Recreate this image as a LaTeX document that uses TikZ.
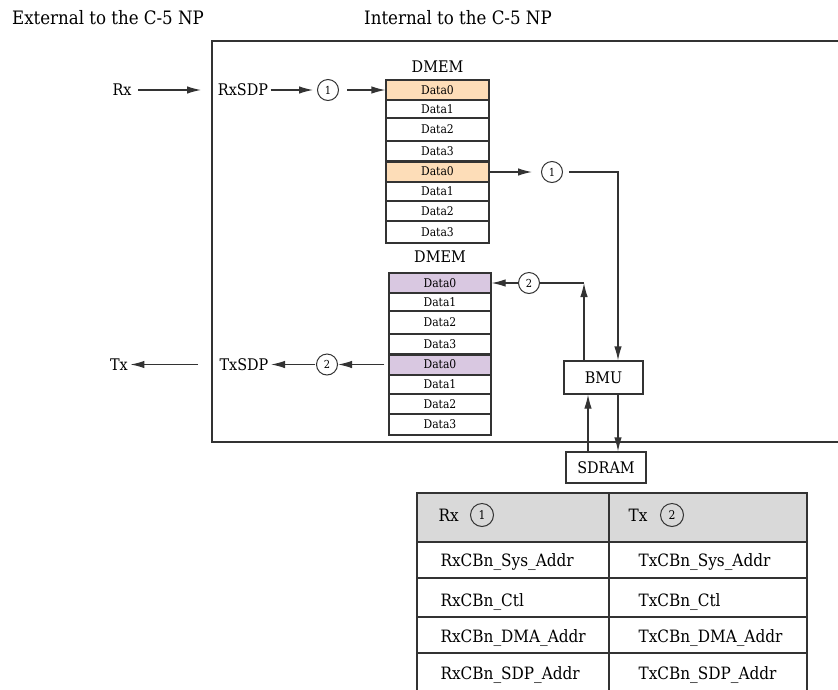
\documentclass[tikz,border=0pt]{standalone}
\usepackage{fontspec}
\setmainfont{DejaVu Serif Condensed}
\usetikzlibrary{arrows.meta}
\definecolor{peach}{HTML}{FDDDB8}
\definecolor{lilac}{HTML}{D9C8E1}
\definecolor{hdr}{HTML}{D9D9D9}
\definecolor{ln}{HTML}{333333}
\begin{document}
\begin{tikzpicture}[x=1pt,y=-1pt, line width=1.2pt,
  lbl/.style={draw=none, inner sep=2pt, font=\fontsize{16}{18}\selectfont, text=black},
  head/.style={draw=none, inner sep=2pt, font=\fontsize{18.5}{20}\selectfont, text=black},
  cell/.style={draw=ln, line width=1.2pt, inner sep=0pt, font=\fontsize{12}{13}\selectfont, text=black},
  numc/.style={circle, draw=ln, line width=1pt, minimum size=21pt, inner sep=0pt, font=\fontsize{11}{12}\selectfont, text=black},
  boxn/.style={draw=ln, line width=1.2pt, inner sep=0pt, font=\fontsize{16}{18}\selectfont, text=black},
  tcell/.style={draw=ln, line width=1.2pt, inner sep=0pt, text=black},
  tlbl/.style={draw=none, inner sep=2pt, anchor=west, font=\fontsize{17}{19}\selectfont, text=black},
  arr/.style={ln, -{Latex[length=14pt,width=7.5pt]}}
]
\useasboundingbox (0,0) rectangle (838,689);

% headings
\node[head] (ext) at (108,18) {External to the C-5 NP};
\node[head] (int) at (458,18) {Internal to the C-5 NP};

% chip boundary
\begin{scope}
\clip (0,0) rectangle (838,689);
\draw[ln] (850,41) -| (212,442) -- (850,442);
\end{scope}

% DMEM 1
\node[lbl] (dm1) at (437.5,67) {DMEM};
\node[cell, fill=peach, minimum width=103pt, minimum height=20pt] (a1) at (437.5,90) {Data0};
\node[cell, minimum width=103pt, minimum height=18pt] (a2) at (437.5,109) {Data1};
\node[cell, minimum width=103pt, minimum height=23pt] (a3) at (437.5,129.5) {Data2};
\node[cell, minimum width=103pt, minimum height=20pt] (a4) at (437.5,151) {Data3};
\node[cell, fill=peach, minimum width=103pt, minimum height=21pt] (a5) at (437.5,171.5) {Data0};
\node[cell, minimum width=103pt, minimum height=19pt] (a6) at (437.5,191.5) {Data1};
\node[cell, minimum width=103pt, minimum height=20pt] (a7) at (437.5,211) {Data2};
\node[cell, minimum width=103pt, minimum height=22pt] (a8) at (437.5,232) {Data3};
\draw[ln, line width=2.4pt] (a4.south west) -- (a4.south east);

% DMEM 2
\node[lbl] (dm2) at (440,257) {DMEM};
\node[cell, fill=lilac, minimum width=102pt, minimum height=20pt] (b1) at (440,283) {Data0};
\node[cell, minimum width=102pt, minimum height=18pt] (b2) at (440,302) {Data1};
\node[cell, minimum width=102pt, minimum height=23pt] (b3) at (440,322.5) {Data2};
\node[cell, minimum width=102pt, minimum height=20pt] (b4) at (440,344) {Data3};
\node[cell, fill=lilac, minimum width=102pt, minimum height=21pt] (b5) at (440,364.5) {Data0};
\node[cell, minimum width=102pt, minimum height=19pt] (b6) at (440,384.5) {Data1};
\node[cell, minimum width=102pt, minimum height=20pt] (b7) at (440,404) {Data2};
\node[cell, minimum width=102pt, minimum height=21pt] (b8) at (440,424.5) {Data3};
\draw[ln, line width=2.4pt] (b4.south west) -- (b4.south east);

% Rx path
\node[lbl] (rx) at (122,90) {Rx};
\coordinate (rxin) at (201,90);
\draw[arr, shorten <=4pt] (rx) -- (rxin);
\node[lbl] (rxsdp) at (243,90) {RxSDP};
\node[numc] (c1a) at (328,90) {1};
\draw[arr, shorten >=4pt] (rxsdp) -- (c1a);
\draw[arr, shorten <=8pt] (c1a) -- (a1.west);

% BMU and SDRAM
\node[boxn, minimum width=79pt, minimum height=33pt] (bmu) at (603.5,377.5) {BMU};
\node[boxn, minimum width=80pt, minimum height=31pt] (sdram) at (606,467.5) {SDRAM};

\node[numc] (c1b) at (552,172) {1};
\draw[arr, shorten >=9pt] (a5.east |- c1b) -- (c1b);
\draw[arr] ([xshift=6pt]c1b.east) -| ([xshift=14.5pt]bmu.north);

\coordinate (up2) at (584,283);
\node[numc] (c2a) at (529,283) {2};
\draw[arr] ([xshift=-19.5pt]bmu.north) -- (up2);
\draw[ln] (up2) -- (c2a);
\draw[arr] (c2a) -- (b1.east);

\draw[arr] ([xshift=-15.5pt]bmu.south |- sdram.north) -- ([xshift=-15.5pt]bmu.south);
\draw[arr] ([xshift=14.5pt]bmu.south) -- ([xshift=14.5pt]bmu.south |- sdram.north);

% Tx path
\node[numc] (c2b) at (327,364.5) {2};
\draw[arr, shorten <=4pt] (b5.west) -- (c2b);
\node[lbl] (txsdp) at (244,364.5) {TxSDP};
\draw[arr, shorten <=1pt] (c2b) -- (txsdp);
\node[lbl] (tx) at (119,364.5) {Tx};
\coordinate (txout) at (198,364.5);
\draw[arr] (txout) -- (tx);

% register table
\node[tcell, fill=hdr, minimum width=192pt, minimum height=49pt] (h1) at (513,517.5) {};
\node[tcell, fill=hdr, minimum width=198pt, minimum height=49pt] (h2) at (708,517.5) {};
\node[tlbl] (hrx) at (436,515) {Rx};
\node[numc, minimum size=23pt, font=\fontsize{12}{13}\selectfont] (hc1) at (482,515) {1};
\node[tlbl] (htx) at (626,515) {Tx};
\node[numc, minimum size=23pt, font=\fontsize{12}{13}\selectfont] (hc2) at (672,515) {2};

\node[tcell, minimum width=192pt, minimum height=36pt] (r1a) at (513,560) {};
\node[tcell, minimum width=198pt, minimum height=36pt] (r1b) at (708,560) {};
\node[tcell, minimum width=192pt, minimum height=39pt] (r2a) at (513,597.5) {};
\node[tcell, minimum width=198pt, minimum height=39pt] (r2b) at (708,597.5) {};
\node[tcell, minimum width=192pt, minimum height=36pt] (r3a) at (513,635) {};
\node[tcell, minimum width=198pt, minimum height=36pt] (r3b) at (708,635) {};
\node[tcell, minimum width=192pt, minimum height=44pt] (r4a) at (513,675) {};
\node[tcell, minimum width=198pt, minimum height=44pt] (r4b) at (708,675) {};

\node[tlbl] (t1) at (438,562) {RxCBn\_Sys\_Addr};
\node[tlbl] (t2) at (636,562) {TxCBn\_Sys\_Addr};
\node[tlbl] (t3) at (438,602) {RxCBn\_Ctl};
\node[tlbl] (t4) at (636,602) {TxCBn\_Ctl};
\node[tlbl] (t5) at (438,638) {RxCBn\_DMA\_Addr};
\node[tlbl] (t6) at (636,638) {TxCBn\_DMA\_Addr};
\node[tlbl] (t7) at (438,675) {RxCBn\_SDP\_Addr};
\node[tlbl] (t8) at (636,675) {TxCBn\_SDP\_Addr};
\end{tikzpicture}
\end{document}
